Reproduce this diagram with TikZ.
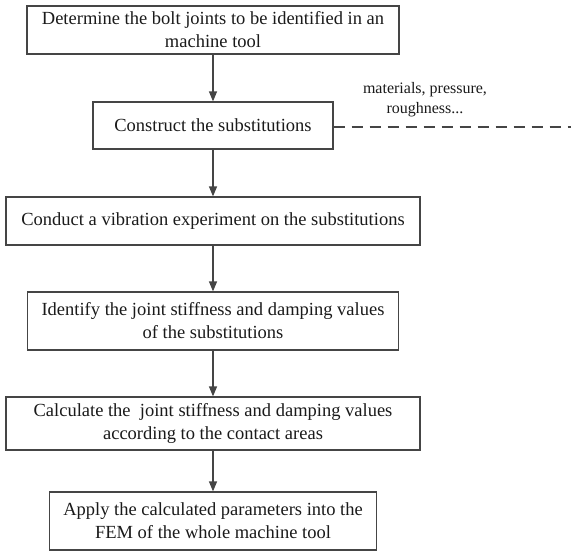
\documentclass[tikz,border=0pt]{standalone}
\usepackage{fontspec}
\setmainfont{Liberation Serif}
\usetikzlibrary{arrows.meta}
\definecolor{linec}{HTML}{454545}
\definecolor{textc}{HTML}{1A1A1A}
\begin{document}
\begin{tikzpicture}[x=1pt,y=-1pt,
  stepbox/.style={draw=linec, line width=1.2pt, text=textc, align=center, inner sep=0pt,
    font=\fontsize{18.5}{23}\selectfont},
  flow/.style={draw=linec, line width=1.2pt, -{Triangle[length=10pt,width=8pt]}},
  dashline/.style={draw=linec, line width=1.2pt, dash pattern=on 11pt off 7pt},
  note/.style={text=textc, align=center, inner sep=0pt, font=\fontsize{16}{20}\selectfont}]
\useasboundingbox (0,0) rectangle (571,552);
\node[stepbox, minimum width=372pt, minimum height=48pt] (b1) at (213,30)
  {Determine the bolt joints to be identified in an\\machine tool};
\node[stepbox, minimum width=240pt, minimum height=47pt] (b2) at (213,125.5)
  {Construct the substitutions};
\node[stepbox, minimum width=414pt, minimum height=48pt] (b3) at (213,221)
  {Conduct a vibration experiment on the substitutions};
\node[stepbox, minimum width=371pt, minimum height=58pt] (b4) at (213,321)
  {Identify the joint stiffness and damping values\\of the substitutions};
\node[stepbox, minimum width=414pt, minimum height=53pt] (b5) at (213,423.5)
  {Calculate the \ joint stiffness and damping values\\according to the contact areas};
\node[stepbox, minimum width=327pt, minimum height=58pt] (b6) at (213,521)
  {Apply the calculated parameters into the\\FEM of the whole machine tool};
\coordinate (dend) at (572,127);
\node[note] (lbl) at (425,100) {materials, pressure,\\roughness...};
\draw[flow] (b1) -- (b2);
\draw[flow] (b2) -- (b3);
\draw[flow] (b3) -- (b4);
\draw[flow] (b4) -- (b5);
\draw[flow] (b5) -- (b6);
\draw[dashline] (b2.east |- dend) -- (dend);
\end{tikzpicture}
\end{document}
